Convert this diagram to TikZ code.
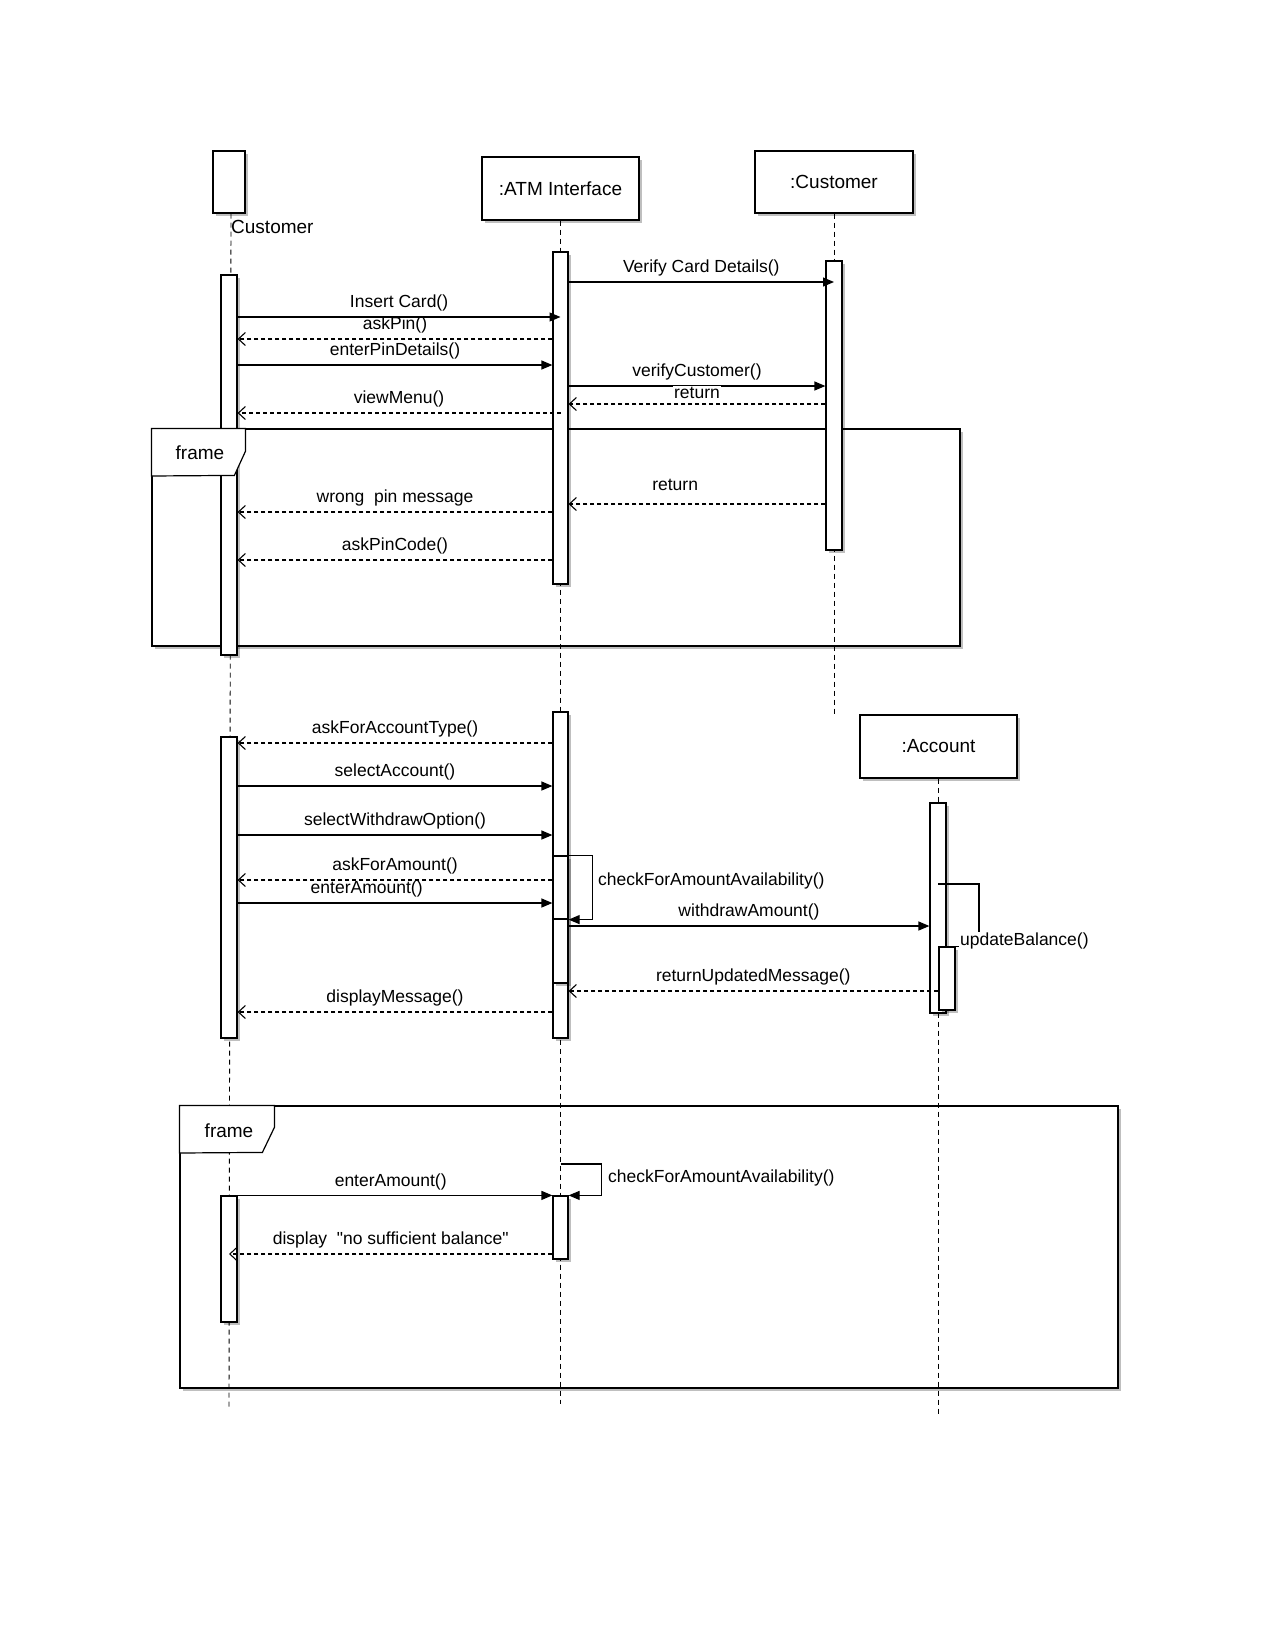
\documentclass[tikz,border=0pt]{standalone}
\usepackage{fontspec}
\setmainfont{Liberation Sans}
\usetikzlibrary{arrows.meta, positioning, fit, shadows}

\begin{document}
\begin{tikzpicture}[
    x=1pt, y=-1pt,
    shade/.style={drop shadow={shadow xshift=2.5pt, shadow yshift=-2.5pt, opacity=0.25, fill=black}},
    hdr/.style={draw, fill=white, line width=1.2pt, inner sep=0pt, shade, font=\fontsize{19}{21}\selectfont},
    bar/.style={draw, fill=white, line width=1.2pt, inner sep=0pt, shade},
    frm/.style={draw, fill=white, line width=1.2pt, inner sep=0pt, shade},
    tab/.style={draw, fill=white, line width=1.2pt},
    life/.style={line width=0.9pt, dash pattern=on 5pt off 4pt},
    msg/.style={-{Triangle[length=11pt, width=9pt]}, line width=1.2pt},
    ret/.style={-{Straight Barb[length=7pt, width=13pt]}, line width=1.1pt, dash pattern=on 4pt off 3pt},
    lbl/.style={above=4pt, inner sep=1pt, font=\fontsize{17.5}{19}\selectfont},
    note/.style={anchor=west, inner sep=1pt, font=\fontsize{17.5}{19}\selectfont}
]
\useasboundingbox[fill=white] (0,0) rectangle (1275,1650);

% frames
\node[frm, fit={(152,429) (960,646)}] (frame1) {};
\node[frm, fit={(180,1106) (1118,1388)}] (frame2) {};

% heads
\node[hdr, minimum width=32pt, minimum height=62pt] (actor) at (229,182) {};
\node[note, font=\fontsize{19}{21}\selectfont, inner sep=0pt] (actorlbl) at (231,227) {Customer};
\node[hdr, minimum width=157pt, minimum height=63pt] (atm) at (560.5,188.5) {:ATM Interface};
\node[hdr, minimum width=158pt, minimum height=62pt] (cust) at (834,182) {:Customer};
\node[hdr, minimum width=157pt, minimum height=63pt] (acc) at (938.5,746.5) {:Account};

% lifelines
\coordinate (actorend) at (229,1407);
\coordinate (atmend) at (560.5,1404);
\coordinate (custend) at (834,717);
\coordinate (accend) at (938.5,1415);
\draw[life] (actorlbl.west |- actor.south) -- (actorend);
\draw[life] (atm.south) -- (atmend);
\draw[life] (cust.south) -- (custend);
\draw[life] (acc.south) -- (accend);

% activations
\node[bar, fit={(221,275) (237,655)}] (cbarA) {};
\node[bar, fit={(221,737) (237,1038)}] (cbarB) {};
\node[bar, fit={(221,1196) (237,1322)}] (cbarC) {};
\node[bar, fit={(553,252) (568,584)}] (abarA) {};
\node[bar, fit={(553,712) (568,1038)}] (abarB) {};
\node[bar, fit={(553,856) (568,919)}] (abarB1) {};
\node[bar, fit={(553,919) (568,983)}] (abarB2) {};
\node[bar, fit={(553,1196) (568,1259)}] (abarC) {};
\node[bar, fit={(826,261) (842,550)}] (kbarA) {};
\node[bar, fit={(930,803) (946,1013)}] (accbar) {};
\node[bar, fit={(939,947) (955,1010)}] (accbarN) {};

% frame tabs
\draw[tab] (frame1.north west) -- ++(94,0) -- ++(0,23) -- ++(-11,24) -- (frame1.north west |- 0,476) -- cycle;
\node[font=\fontsize{19}{21}\selectfont] (frame1lbl) at (200,453) {frame};
\draw[tab] (frame2.north west) -- ++(95,0) -- ++(0,22) -- ++(-12,25) -- (frame2.north west |- 0,1153) -- cycle;
\node[font=\fontsize{19}{21}\selectfont] (frame2lbl) at (229,1131) {frame};

% card and pin
\draw[msg] (cbarA.east |- 0,317) -- (abarA |- 0,317) node[lbl, midway] {Insert Card()};
\draw[ret] (abarA.west |- 0,339) -- (cbarA.east |- 0,339) node[lbl, midway] {askPin()};
\draw[msg] (cbarA.east |- 0,365) -- (abarA.west |- 0,365) node[lbl, midway] {enterPinDetails()};
\draw[ret] (abarA |- 0,413) -- (cbarA.east |- 0,413) node[lbl, midway] {viewMenu()};
\draw[msg] (abarA.east |- 0,282) -- (kbarA |- 0,282) node[lbl, midway] {Verify Card Details()};
\draw[msg] (abarA.east |- 0,386) -- (kbarA.west |- 0,386) node[lbl, midway] {verifyCustomer()};
\draw[ret] (kbarA.west |- 0,404) -- (abarA.east |- 0,404) node[lbl, midway, fill=white] {return};

% wrong pin
\draw[ret] (kbarA.west |- 0,504) -- (abarA.east |- 0,504) node[lbl, pos=0.585, above=12pt] {return};
\draw[ret] (abarA.west |- 0,512) -- (cbarA.east |- 0,512) node[lbl, midway] {wrong\ \ pin message};
\draw[ret] (abarA.west |- 0,560) -- (cbarA.east |- 0,560) node[lbl, midway] {askPinCode()};

% withdraw
\draw[ret] (abarB.west |- 0,743) -- (cbarB.east |- 0,743) node[lbl, midway] {askForAccountType()};
\draw[msg] (cbarB.east |- 0,786) -- (abarB.west |- 0,786) node[lbl, midway] {selectAccount()};
\draw[msg] (cbarB.east |- 0,835) -- (abarB.west |- 0,835) node[lbl, midway] {selectWithdrawOption()};
\draw[ret] (abarB.west |- 0,880) -- (cbarB.east |- 0,880) node[lbl, midway] {askForAmount()};
\draw[msg] (cbarB.east |- 0,903) -- (abarB.west |- 0,903) node[lbl, pos=0.41] {enterAmount()};
\draw[msg] (abarB1.north east) -- ++(24,0) |- (abarB1.south east);
\node[note] (chk1) at (597,881) {checkForAmountAvailability()};
\draw[msg] (abarB2.east |- 0,926) -- (accbar.west |- 0,926) node[lbl, midway] {withdrawAmount()};
\draw[line width=1.2pt] (accbar |- 0,884) -- ++(41,0) |- (accbarN.north east);
\node[note, fill=white] (upd) at (959,941) {updateBalance()};
\draw[ret] (accbar |- 0,991) -- (abarB.east |- 0,991) node[lbl, midway] {returnUpdatedMessage()};
\draw[ret] (abarB.west |- 0,1012) -- (cbarB.east |- 0,1012) node[lbl, midway] {displayMessage()};

% no balance
\draw[msg] (cbarC.north) -- (abarC.north west) node[lbl, midway] {enterAmount()};
\draw[msg] (abarC.north |- 0,1164) -- ++(41,0) |- (abarC.north east);
\node[note] (chk2) at (607,1178) {checkForAmountAvailability()};
\draw[ret] (abarC.west |- 0,1254) -- (cbarC |- 0,1254) node[lbl, midway] {display\ \ \textquotedbl no sufficient balance\textquotedbl};
\end{tikzpicture}
\end{document}
